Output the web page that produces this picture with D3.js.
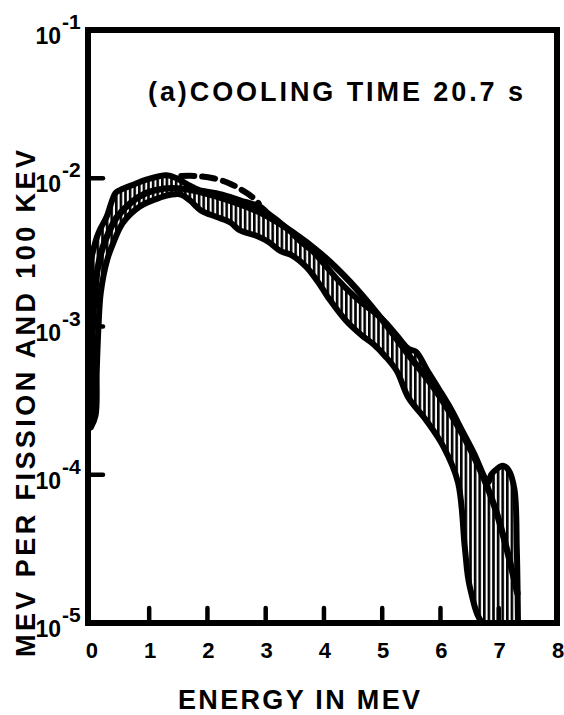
<!DOCTYPE html>
<html>
<head>
<meta charset="utf-8">
<script src="https://cdn.jsdelivr.net/npm/d3@7"></script>
<style>
  html, body { margin: 0; padding: 0; background: #fff; }
  svg { display: block; }
  text { font-family: "Liberation Sans", Arial, sans-serif; font-weight: bold; fill: #000; }
</style>
</head>
<body>
<script>
// ---- data (energy in MeV, log10 of MeV per fission and 100 keV) ----
const xTicks = [0, 1, 2, 3, 4, 5, 6, 7, 8];
const xTickMarks = [1, 2, 3, 4, 5, 6, 7];
const yTickExps = [-1, -2, -3, -4, -5];
const yTickMarks = [-2, -3, -4];

// experimental band, upper boundary
const bandUpperE = [0.0, 0.1, 0.15, 0.27, 0.42, 0.5, 0.75, 0.95, 1.3, 1.47, 1.65, 1.86, 2.15, 2.42, 2.65, 2.9, 3.05, 3.25, 3.4, 3.58, 3.8, 4.05, 4.25, 4.45, 4.65, 4.85, 5.05, 5.25, 5.45, 5.58, 5.78, 5.97, 6.17, 6.37, 6.57, 6.82, 6.87, 6.97, 7.07, 7.17, 7.27, 7.31, 7.33];
const bandUpperLog = [-2.55, -2.4, -2.35, -2.26, -2.1, -2.08, -2.04, -2.01, -1.98, -2.0, -2.04, -2.08, -2.1, -2.13, -2.16, -2.19, -2.24, -2.3, -2.35, -2.42, -2.49, -2.6, -2.69, -2.77, -2.84, -2.9, -2.97, -3.06, -3.15, -3.17, -3.3, -3.42, -3.55, -3.7, -3.85, -4.05, -4.0, -3.96, -3.94, -3.97, -4.1, -4.5, -5.0];
// experimental band, lower boundary
const bandLowerE = [0.0, 0.08, 0.1, 0.13, 0.17, 0.28, 0.38, 0.55, 0.84, 1.19, 1.39, 1.55, 1.7, 1.9, 2.15, 2.4, 2.55, 2.85, 3.05, 3.25, 3.45, 3.7, 3.95, 4.1, 4.4, 4.65, 4.85, 5.05, 5.25, 5.45, 5.75, 6.05, 6.3, 6.42, 6.5, 6.73, 7.0, 7.33];
const bandLowerLog = [-3.68, -3.6, -3.3, -3.0, -2.77, -2.55, -2.44, -2.3, -2.19, -2.13, -2.11, -2.11, -2.15, -2.22, -2.26, -2.3, -2.35, -2.39, -2.43, -2.49, -2.52, -2.6, -2.73, -2.82, -2.97, -3.06, -3.12, -3.2, -3.3, -3.48, -3.63, -3.81, -4.05, -4.5, -4.75, -5.0, -5.0, -5.0];

// calculated spectrum (solid)
const calcE = [0.0, 0.03, 0.06, 0.12, 0.2, 0.3, 0.45, 0.7, 0.95, 1.25, 1.55, 1.95, 2.45, 2.95, 3.45, 3.95, 4.45, 4.95, 5.45, 5.95, 6.45, 6.75, 6.95, 7.15, 7.32];
const calcLog = [-3.6, -3.0, -2.8, -2.6, -2.47, -2.37, -2.26, -2.16, -2.1, -2.07, -2.07, -2.1, -2.16, -2.24, -2.36, -2.51, -2.7, -2.93, -3.19, -3.45, -3.78, -4.03, -4.24, -4.52, -4.8];

// second calculation (dashed), near the peak
const dashE = [1.55, 1.8, 2.1, 2.35, 2.55, 2.75, 2.88];
const dashLog = [-1.985, -1.985, -2.0, -2.03, -2.07, -2.12, -2.17];

const titleText = "(a)COOLING TIME 20.7 s";
const xTitle = "ENERGY IN MEV";
const yTitle = "MEV PER FISSION AND 100 KEV";

// ---- drawing ----
const W = 564, H = 715;
const frame = { left: 88, right: 557, top: 30, bottom: 623 };

const svg = d3.select("body").append("svg").attr("width", W).attr("height", H);

const x = d3.scaleLinear().domain([-0.05, 8]).range([frame.left, frame.right]);
const y = d3.scaleLog().domain([1e-5, 1e-1]).range([frame.bottom, frame.top]);

const toPts = (E, L) => E.map((e, i) => [e, Math.pow(10, L[i])]);
const line = d3.line().x(d => x(d[0])).y(d => y(d[1])).curve(d3.curveCatmullRom.alpha(0.5));

// hatch pattern (vertical lines)
const defs = svg.append("defs");
const pat = defs.append("pattern").attr("id", "hatch").attr("patternUnits", "userSpaceOnUse")
  .attr("width", 4.6).attr("height", 10);
pat.append("rect").attr("width", 4.6).attr("height", 10).attr("fill", "#fff");
pat.append("rect").attr("width", 2.6).attr("height", 10).attr("fill", "#000");

const clip = defs.append("clipPath").attr("id", "plotclip");
clip.append("rect").attr("x", frame.left).attr("y", frame.top)
  .attr("width", frame.right - frame.left).attr("height", frame.bottom - frame.top);

const g = svg.append("g").attr("clip-path", "url(#plotclip)");

const upperPts = toPts(bandUpperE, bandUpperLog);
const lowerPts = toPts(bandLowerE, bandLowerLog).reverse();
const bandPath = line(upperPts) + line(lowerPts).replace(/^M/, "L") + "Z";

g.append("path").attr("d", bandPath)
  .attr("fill", "url(#hatch)").attr("stroke", "#000").attr("stroke-width", 6)
  .attr("stroke-linejoin", "round");

g.append("path").attr("d", line(toPts(calcE, calcLog)))
  .attr("fill", "none").attr("stroke", "#000").attr("stroke-width", 6.5)
  .attr("stroke-linecap", "round").attr("stroke-linejoin", "round");

g.append("path").attr("d", line(toPts(dashE, dashLog)))
  .attr("fill", "none").attr("stroke", "#000").attr("stroke-width", 6)
  .attr("stroke-dasharray", "13,8").attr("stroke-linecap", "round");

// frame
svg.append("rect").attr("x", frame.left).attr("y", frame.top)
  .attr("width", frame.right - frame.left).attr("height", frame.bottom - frame.top)
  .attr("fill", "none").attr("stroke", "#000").attr("stroke-width", 6);

// x tick marks (upward)
svg.append("g").selectAll("line").data(xTickMarks).join("line")
  .attr("x1", d => x(d)).attr("x2", d => x(d))
  .attr("y1", frame.bottom).attr("y2", frame.bottom - 15)
  .attr("stroke", "#000").attr("stroke-width", 4.5).attr("stroke-linecap", "round");

// y tick marks (inward)
svg.append("g").selectAll("line").data(yTickMarks).join("line")
  .attr("x1", frame.left).attr("x2", frame.left + 15)
  .attr("y1", d => y(Math.pow(10, d))).attr("y2", d => y(Math.pow(10, d)))
  .attr("stroke", "#000").attr("stroke-width", 4.5).attr("stroke-linecap", "round");

// x tick labels
svg.append("g").selectAll("text").data(xTicks).join("text")
  .attr("x", d => x(d) + 1).attr("y", 658)
  .attr("text-anchor", "middle").attr("font-size", 22)
  .text(d => d);

// y tick labels 10^n
const yl = svg.append("g").selectAll("g").data(yTickExps).join("g");
yl.append("text")
  .attr("x", 61).attr("y", d => y(Math.pow(10, d)) + 14)
  .attr("text-anchor", "end").attr("font-size", 23)
  .text("10");
yl.append("text")
  .attr("x", 62).attr("y", d => y(Math.pow(10, d)) - 1)
  .attr("text-anchor", "start").attr("font-size", 21)
  .text(d => "-" + Math.abs(d));

// title inside plot
svg.append("text").attr("x", 148).attr("y", 101)
  .attr("font-size", 27).attr("textLength", 375).attr("lengthAdjust", "spacing")
  .text(titleText);

// x axis title
svg.append("text").attr("x", 178).attr("y", 709)
  .attr("font-size", 27).attr("textLength", 242).attr("lengthAdjust", "spacing")
  .text(xTitle);

// y axis title
svg.append("text")
  .attr("transform", "translate(35,657) rotate(-90)")
  .attr("x", 0).attr("y", 0)
  .attr("font-size", 27).attr("textLength", 507).attr("lengthAdjust", "spacing")
  .text(yTitle);
</script>
</body>
</html>
